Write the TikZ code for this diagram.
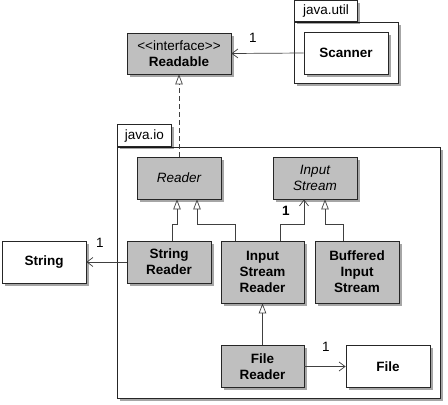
\documentclass[tikz,border=0pt]{standalone}
\usepackage{fontspec}
\setmainfont{Liberation Sans}
\usetikzlibrary{arrows.meta,shadows}
\begin{document}
\begin{tikzpicture}[x=1pt,y=-1pt,
  basefont/.style={font=\fontsize{13.5}{16}\selectfont},
  shad/.style={drop shadow={shadow xshift=2.5pt,shadow yshift=-2.5pt,fill=black,opacity=0.35}},
  cls/.style={draw=black!85,line width=0.8pt,fill=black!25,align=center,
    minimum width=84pt,minimum height=42pt,inner sep=0pt,shad,
    font=\fontsize{13.5}{16}\selectfont\bfseries},
  wcls/.style={cls,fill=white},
  acls/.style={cls,font=\fontsize{13.5}{16}\selectfont\itshape},
  pkg/.style={draw=black!85,line width=0.8pt,fill=white,inner sep=0pt,shad},
  tab/.style={pkg,basefont},
  conn/.style={draw=black!75,line width=0.7pt},
  gen/.style={conn,-{Triangle[open,length=10pt,width=7.5pt]}},
  nav/.style={conn,-{Straight Barb[length=6pt,width=9pt]}},
  real/.style={gen,dash pattern=on 5pt off 3pt},
  mult/.style={basefont,inner sep=0pt}
]
\useasboundingbox (0,0) rectangle (448,405);

% packages
\node[pkg,anchor=north west,minimum width=104pt,minimum height=61pt] (utilbody) at (294,22) {};
\node[tab,anchor=south west,minimum width=63pt,minimum height=21pt] (utiltab) at (294,22) {java.util};
\node[pkg,anchor=north west,minimum width=323pt,minimum height=251pt] (iobody) at (117,147) {};
\node[tab,anchor=south west,minimum width=54pt,minimum height=22pt] (iotab) at (117,147) {java.io};

% classes
\node[cls,minimum width=104pt,minimum height=41pt,font=\fontsize{13.5}{16}\selectfont] (readable) at (179,53.5) {{<}{<}interface{>}{>}\\\textbf{Readable}};
\node[wcls] (scanner) at (346,53) {Scanner};
\node[acls] (reader) at (179,178) {Reader};
\node[acls] (instream) at (315,178) {Input\\Stream};
\node[wcls] (string) at (44,262) {String};
\node[cls] (sreader) at (169,262) {String\\Reader};
\node[cls,minimum width=83pt,minimum height=62pt] (isreader) at (262.5,272) {Input\\Stream\\Reader};
\node[cls,minimum height=62pt] (bis) at (357,272) {Buffered\\Input\\Stream};
\node[cls,minimum width=83pt] (freader) at (262.5,366.5) {File\\Reader};
\node[wcls] (file) at (388,366.5) {File};

% connectors
\draw[nav] (scanner.west) -- (readable.east);
\node[mult] (m1) at (253,38) {1};
\draw[real] (reader.north) -- (readable.south);
\draw[nav] (sreader.west) -- (string.east);
\node[mult] (m2) at (100,243) {1};
\draw[gen] ([xshift=3pt]sreader.north) -- ++(0,-16) -| ([xshift=-2pt]reader.south);
\draw[gen] ([xshift=-27.5pt]isreader.north) -- ++(0,-16) -| ([xshift=18pt]reader.south);
\draw[nav] ([xshift=17.5pt]isreader.north) -- ++(0,-16) -| ([xshift=-11pt]instream.south);
\node[mult,font=\fontsize{13.5}{16}\selectfont\bfseries] (m3) at (286,211) {1};
\draw[gen] ([xshift=-14pt]bis.north) -- ++(0,-16) -| ([xshift=10pt]instream.south);
\draw[gen] (freader.north) -- (isreader.south);
\draw[nav] (freader.east) -- (file.west);
\node[mult] (m4) at (326,347) {1};
\end{tikzpicture}
\end{document}
